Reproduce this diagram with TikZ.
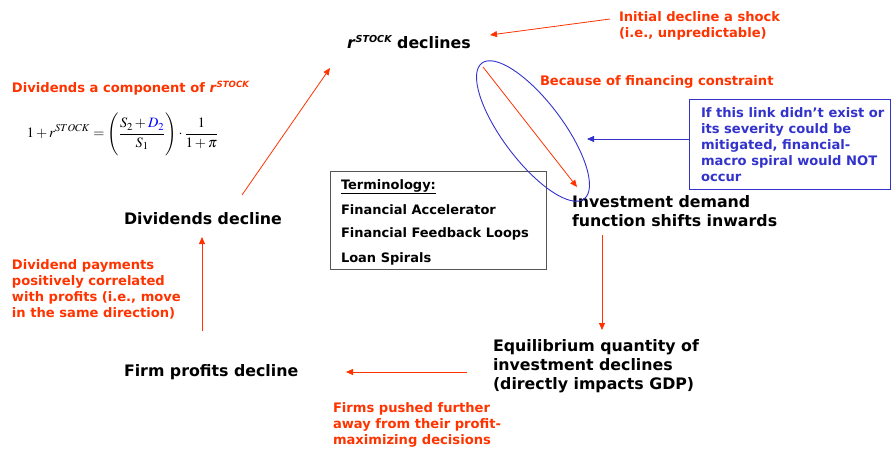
\documentclass[tikz,border=0pt]{standalone}
\usepackage{mathptmx}
\usepackage{fontspec}
\setmainfont{DejaVu Sans}
\usetikzlibrary{arrows.meta}
\definecolor{hot}{HTML}{FF3300}
\definecolor{ink}{HTML}{3333CC}
\definecolor{boxgray}{HTML}{555555}
\tikzset{
  every node/.style={inner sep=0pt, outer sep=0pt},
  stage/.style={font=\bfseries\fontsize{15.8}{18.6}\selectfont, align=left, anchor=base west},
  note/.style={font=\bfseries\fontsize{13.1}{16}\selectfont, text=hot, align=left, anchor=base west},
  bluenote/.style={font=\bfseries\fontsize{13.1}{16}\selectfont, text=ink, align=left, anchor=base west},
  termline/.style={font=\bfseries\fontsize{13}{14}\selectfont, anchor=base west},
  flow/.style={draw=hot, line width=0.8pt, -{Triangle[length=7pt,width=6pt]}},
  bluearrow/.style={draw=ink, line width=0.8pt, -{Triangle[length=7pt,width=6pt]}},
}
% r with an italic STOCK superscript: #1 superscript size, #2 raise
\newcommand{\rstk}[2]{\textit{r}\raisebox{#2}{\fontsize{#1}{#1}\selectfont\itshape STOCK}}
\begin{document}
\begin{tikzpicture}[x=1pt,y=-1pt]
\useasboundingbox (0,0) rectangle (891,450);

% stages of the spiral (multi-line nodes are placed by their last baseline)
\node[stage] (rstock) at (347,48) {\rstk{9.6pt}{6pt} declines};
\node[stage] (invest) at (572,226) {Investment demand\\function shifts inwards};
\node[stage] (equil) at (493,389) {Equilibrium quantity of\\investment declines\\(directly impacts GDP)};
\node[stage] (profits) at (124,376) {Firm profits decline};
\node[stage] (divdec) at (124,224) {Dividends decline};

% explanatory notes
\node[note] (initial) at (619,37) {Initial decline a shock\\(i.e., unpredictable)};
\node[note] (divcomp) at (12,92) {Dividends a component of \rstk{8.6pt}{5pt}};
\node[note] (because) at (540,85) {Because of financing constraint};
\node[note] (divnote) at (12,317) {Dividend payments\\positively correlated\\with profits (i.e., move\\in the same direction)};
\node[note, font=\bfseries\fontsize{13.1}{15.7}\selectfont] (pushed) at (333,444) {Firms pushed further\\away from their profit-\\maximizing decisions};

% return on stock
\node[anchor=west, font=\fontsize{14.3}{16}\selectfont] (eqn) at (27,134)
  {$\displaystyle 1+r^{STOCK}=\Biggl(\frac{S_2+\textcolor{blue}{D_2}}{S_1}\Biggr)\cdot\frac{1}{1+\pi}$};

% terminology box
\draw[boxgray, line width=0.9pt] (330,171) rectangle (546,269);
\node[termline] (term0) at (341,189) {\underline{Terminology:}};
\node[termline] (term1) at (341,214) {Financial Accelerator};
\node[termline] (term2) at (341,237) {Financial Feedback Loops};
\node[termline] (term3) at (341,262) {Loan Spirals};

% counterfactual box
\draw[ink, line width=0.8pt] (689,99) rectangle (890,189);
\node[bluenote] (linkbox) at (701,181) {If this link didn't exist or\\its severity could be\\mitigated, financial-\\macro spiral would NOT\\occur};

% highlighted link
\draw[ink, line width=0.9pt] (533,131) ellipse[x radius=85, y radius=30, rotate=-53];

% connectors
\coordinate (shockstart) at (610,19);
\coordinate (shocktip) at (490,35);
\coordinate (linkstart) at (483,67);
\coordinate (linktip) at (577,187);
\coordinate (downstart) at (602,235);
\coordinate (downtip) at (602,330);
\coordinate (leftstart) at (467,372);
\coordinate (lefttip) at (346,372);
\coordinate (upstart) at (202,331);
\coordinate (uptip) at (202,237);
\coordinate (diagstart) at (242,195);
\coordinate (diagtip) at (330,68);
\coordinate (bluestart) at (689,139);
\coordinate (bluetip) at (587,139);

\draw[flow] (shockstart) -- (shocktip);
\draw[flow] (linkstart) -- (linktip);
\draw[flow] (downstart) -- (downtip);
\draw[flow] (leftstart) -- (lefttip);
\draw[flow] (upstart) -- (uptip);
\draw[flow] (diagstart) -- (diagtip);
\draw[bluearrow] (bluestart) -- (bluetip);
\end{tikzpicture}
\end{document}
